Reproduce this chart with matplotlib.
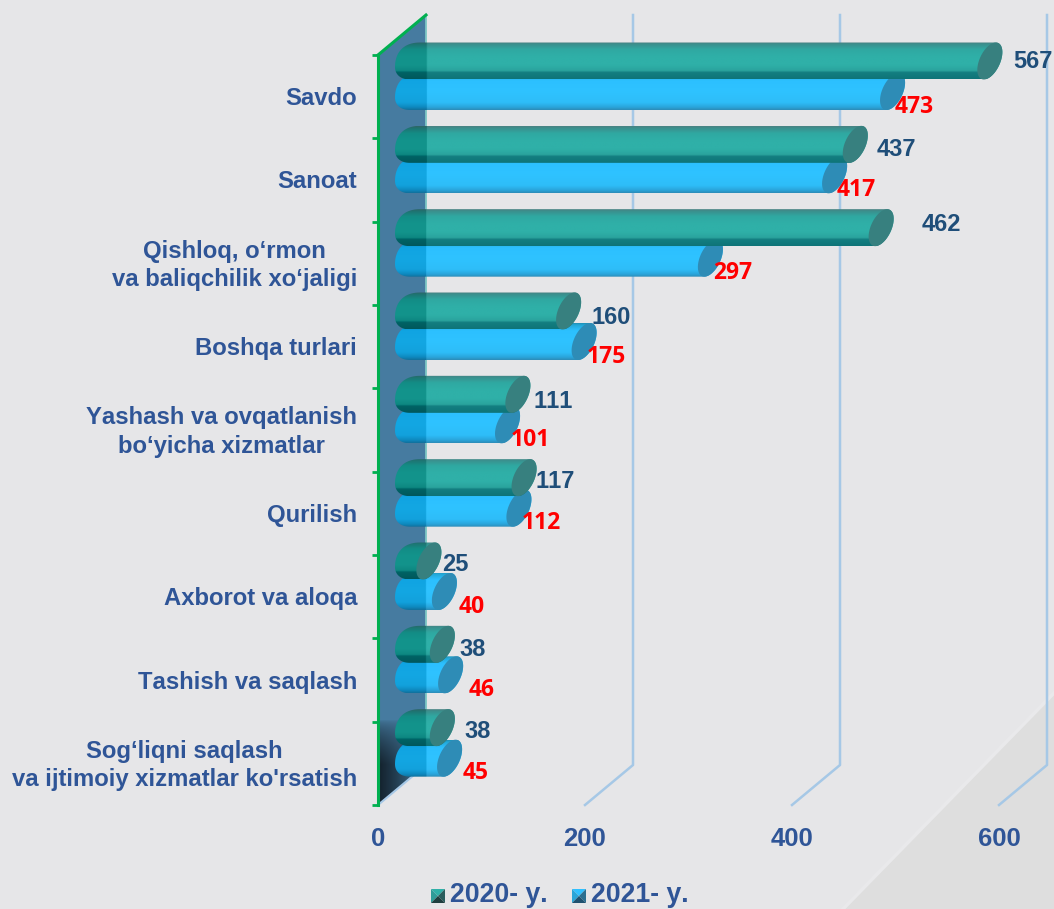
import numpy as np
import matplotlib
matplotlib.use("Agg")
import matplotlib.pyplot as plt
from matplotlib.patches import Polygon
from matplotlib.path import Path
from matplotlib.transforms import Affine2D
from matplotlib.colors import to_rgb

plt.rcParams["text.kerning_factor"] = 6

categories = ["Savdo", "Sanoat", "Qishloq, o‘rmon\nva baliqchilik xo‘jaligi", "Boshqa turlari",
              "Yashash va ovqatlanish\nbo‘yicha xizmatlar", "Qurilish", "Axborot va aloqa",
              "Tashish va saqlash", "Sog‘liqni saqlash\nva ijtimoiy xizmatlar ko'rsatish"]
values_2020 = [567, 437, 462, 160, 111, 117, 25, 38, 38]
values_2021 = [473, 417, 297, 175, 101, 112, 40, 46, 45]
x_ticks = [0, 200, 400, 600]
series_names = ["2020- y.", "2021- y."]

# label nudges in pixels (layout only)
shift_2020 = [(48, -35), (46, -31), (65, -39), (48, -29), (41, -29), (36, -32), (38, -32), (42, -31), (47, -32)]
shift_2021 = [(27, 10), (27, 10), (28, 10), (28, 10), (28, 10), (28, 10), (39, 10), (43, 10), (38, 10)]

W, H = 1054, 909
X0, X_END = 378, 1054
Y_TOP, Y_BOT = 55, 805
K = 207 / 200          # px per value unit
B = (Y_BOT - Y_TOP) / 9  # px per band
BG = "#e6e6e8"
SANS = "Liberation Sans"
BLUE_TXT = "#2f5597"

fig = plt.figure(figsize=(W / 100, H / 100), dpi=100, facecolor=BG)
ax = fig.add_axes([X0 / W, 1 - Y_BOT / H, (X_END - X0) / W, (Y_BOT - Y_TOP) / H])
ax.patch.set_visible(False)
xlim = (0, (X_END - X0) / K)
ylim = (9, 0)

px_tf = Affine2D().scale(1, -1).translate(0, H)

# lower-right background facet
fig.add_artist(Polygon([(1054, 693), (1054, 909), (843, 909)], closed=True, fc="#dedede", ec="none",
                       transform=px_tf, zorder=-2))
fig.add_artist(plt.Line2D([1054, 843], [693, 909], color="#e9e9eb", lw=2.5, transform=px_tf, zorder=-1))


def dxv(p):
    return p / K


def dyb(p):
    return p / B


# depth wall
DEPTH_X, DEPTH_Y = dxv(48), dyb(40)
wall_pts = [(0, 9), (DEPTH_X, 9 - DEPTH_Y), (DEPTH_X, -DEPTH_Y), (0, 0)]
ax.add_patch(Polygon(wall_pts, closed=True, fc="#467ba0", ec="none", zorder=1, clip_on=False))

# wall shadow at the foot
ny, nx = 90, 60
sx = np.linspace(0, 1, nx)[None, :]
sy = np.linspace(0, 1, ny)[:, None]
alpha = np.clip(1 - sx / 0.8, 0, 1) * np.clip((sy - 0.05) / 0.5, 0, 1)
shadow = np.zeros((ny, nx, 4))
shadow[..., :3] = to_rgb("#13212c")
shadow[..., 3] = alpha ** 0.6
im = ax.imshow(shadow, extent=(0, DEPTH_X, 9, 9 - dyb(90)), origin="upper", aspect="auto", zorder=1.1, interpolation="bilinear")
im.set_clip_path(Path(wall_pts + [wall_pts[0]]), transform=ax.transData)
im.set_clip_box(fig.bbox)

# wall edge and back-wall grid lines
ax.plot([DEPTH_X, DEPTH_X], [9 - DEPTH_Y, -DEPTH_Y], color="#7cc6c4", lw=1.3, zorder=1.2, clip_on=False)
ax.plot([0, DEPTH_X], [0, -DEPTH_Y], color="#00b050", lw=2.2, zorder=6, clip_on=False)
ax.plot([0, DEPTH_X], [9, 9 - DEPTH_Y], color="#a6c8e6", lw=1.5, zorder=1.2, clip_on=False)
for v in x_ticks[1:]:
    ax.plot([v, v + DEPTH_X, v + DEPTH_X], [9, 9 - DEPTH_Y, -DEPTH_Y], color="#a6c8e6", lw=1.8, zorder=1, clip_on=False)

GREEN_STOPS = ([0, .05, .2, .4, .62, .78, .82, 1],
               ["#4a8283", "#3b8f8d", "#2fa9a2", "#2fb0a8", "#2fb0a8", "#2aa39d", "#147f81", "#0e7478"])
BLUE_STOPS = ([0, .05, .2, .5, .8, .93, 1],
              ["#1f8fb5", "#22a8d8", "#2cc0ff", "#2fc3ff", "#2ebdf8", "#2aa4da", "#2d8db8"])


def cyl_image(xs, ys, stops):
    pos, cols = stops
    rgb = np.array([to_rgb(c) for c in cols])
    t = np.linspace(0, 1, len(ys))
    grad = np.stack([np.interp(t, pos, rgb[:, c]) for c in range(3)], axis=-1)
    img = np.repeat(grad[:, None, :], len(xs), axis=1)
    img[:, xs < DEPTH_X] = np.clip(img[:, xs < DEPTH_X] - 0.11, 0, 1)
    return img


def ellipse(cx, cy, w, sh, h, t):
    # cx, cy in data; w, sh, h in px
    return np.column_stack([cx + dxv(w * np.cos(t) - sh * np.sin(t)), cy + dyb(h * np.sin(t))])


def bezier(p0, p1, p2, p3, n=24):
    t = np.linspace(0, 1, n)[:, None]
    p0, p1, p2, p3 = map(np.array, (p0, p1, p2, p3))
    return (1 - t) ** 3 * p0 + 3 * (1 - t) ** 2 * t * p1 + 3 * (1 - t) * t ** 2 * p2 + t ** 3 * p3


# rounded left end of the tube, as pixel offsets from its centre
LEFT_END = np.vstack([bezier((9, -18.5), (-9, -18.5), (-16, -7), (-16, 6)),
                      bezier((-16, 6), (-16, 13), (-11, 18.5), (-1, 18.5))])


def draw_bar(value, cy, stops, cap_color, z):
    h = 18.5
    lx = dxv(33)
    rx = value + dxv(25)
    tr = np.linspace(np.pi * 0.5, -np.pi * 0.5, 40)
    left = np.column_stack([lx + dxv(LEFT_END[:, 0]), cy + dyb(LEFT_END[:, 1])])
    outline = np.vstack([left, ellipse(rx, cy, 11, 6, h, tr)])
    outline = np.vstack([outline, outline[0]])
    body = Path(outline)
    xs = np.linspace(outline[:, 0].min(), outline[:, 0].max(), 400)
    ys = np.linspace(cy - dyb(h), cy + dyb(h), 80)
    img = cyl_image(xs, ys, stops)
    im = ax.imshow(img, extent=(xs[0], xs[-1], ys[-1], ys[0]), origin="upper", aspect="auto",
                   zorder=z, interpolation="bilinear")
    im.set_clip_path(body, transform=ax.transData)
    im.set_clip_box(fig.bbox)
    cap = ellipse(rx, cy, 11, 6, h, np.linspace(0, 2 * np.pi, 60))
    ax.add_patch(Polygon(cap, closed=True, fc=cap_color, ec="none", zorder=z + 0.05, clip_on=False))


for i, (a, b) in enumerate(zip(values_2020, values_2021)):
    draw_bar(b, i + dyb(36.5), BLUE_STOPS, "#2e8cb6", 2 + i * 0.2)
    draw_bar(a, i + dyb(6), GREEN_STOPS, "#37807f", 2.1 + i * 0.2)

ax.set_xlim(*xlim)
ax.set_ylim(*ylim)

# data labels
for i, (a, b) in enumerate(zip(values_2020, values_2021)):
    ax.annotate(str(a), xy=(a, i + 0.5), xytext=(shift_2020[i][0] * .72, -shift_2020[i][1] * .72),
                textcoords="offset points", ha="left", va="center", fontsize=17, fontweight="bold",
                family=SANS, color="#1f4e79", zorder=8, annotation_clip=False)
    ax.annotate(str(b), xy=(b, i + 0.5), xytext=(shift_2021[i][0] * .72, -shift_2021[i][1] * .72),
                textcoords="offset points", ha="left", va="center", fontsize=16.5, fontweight="bold",
                family="Open Sans", color="#ff0000", zorder=8, annotation_clip=False)

# axes furniture
for s in ("top", "right", "bottom"):
    ax.spines[s].set_visible(False)
ax.spines["left"].set_color("#00b050")
ax.spines["left"].set_linewidth(2.2)
ax.spines["left"].set_zorder(7)

ax.set_xticks(x_ticks)
ax.set_xticklabels([str(t) for t in x_ticks], fontsize=18.5, fontweight="bold", family=SANS, color=BLUE_TXT)
ax.tick_params(axis="x", length=0, pad=16)
ax.set_yticks(np.arange(0, 10))
ax.set_yticklabels([])
ax.tick_params(axis="y", which="major", length=4.5, width=2, color="#00b050")
ax.set_yticks(np.arange(9) + 0.5 + dyb(2), minor=True)
ax.set_yticklabels(categories, minor=True, fontsize=17.2, fontweight="bold", family=SANS, color=BLUE_TXT)
ax.tick_params(axis="y", which="minor", length=0, pad=15)
for lab in ax.get_yticklabels(minor=True):
    lab.set_multialignment("center")
    lab.set_linespacing(1.3)
    lab.set_verticalalignment("center")

# legend
KEYS = [(431, ["#2fb0a8", "#2f9c98", "#2b5e5e", "#1f3f3f"]),
        (572, ["#30c0ff", "#2aa5d8", "#2b6f90", "#1f5270"])]
for (kx, cols), name in zip(KEYS, series_names):
    x0, x1, y0, y1 = kx, kx + 14, 889, 903
    c = (kx + 7, 896)
    tris = [[(x0, y0), (x1, y0), c], [(x0, y0), (x0, y1), c], [(x1, y0), (x1, y1), c], [(x0, y1), (x1, y1), c]]
    for tri, col in zip(tris, cols):
        fig.add_artist(Polygon(tri, closed=True, fc=col, ec="none", transform=px_tf, zorder=3))
    fig.text(kx + 19, 895, name, transform=px_tf, fontsize=19.2, fontweight="bold", family=SANS,
             color=BLUE_TXT, ha="left", va="center")

fig.savefig("out.png", dpi=100, facecolor=BG)
